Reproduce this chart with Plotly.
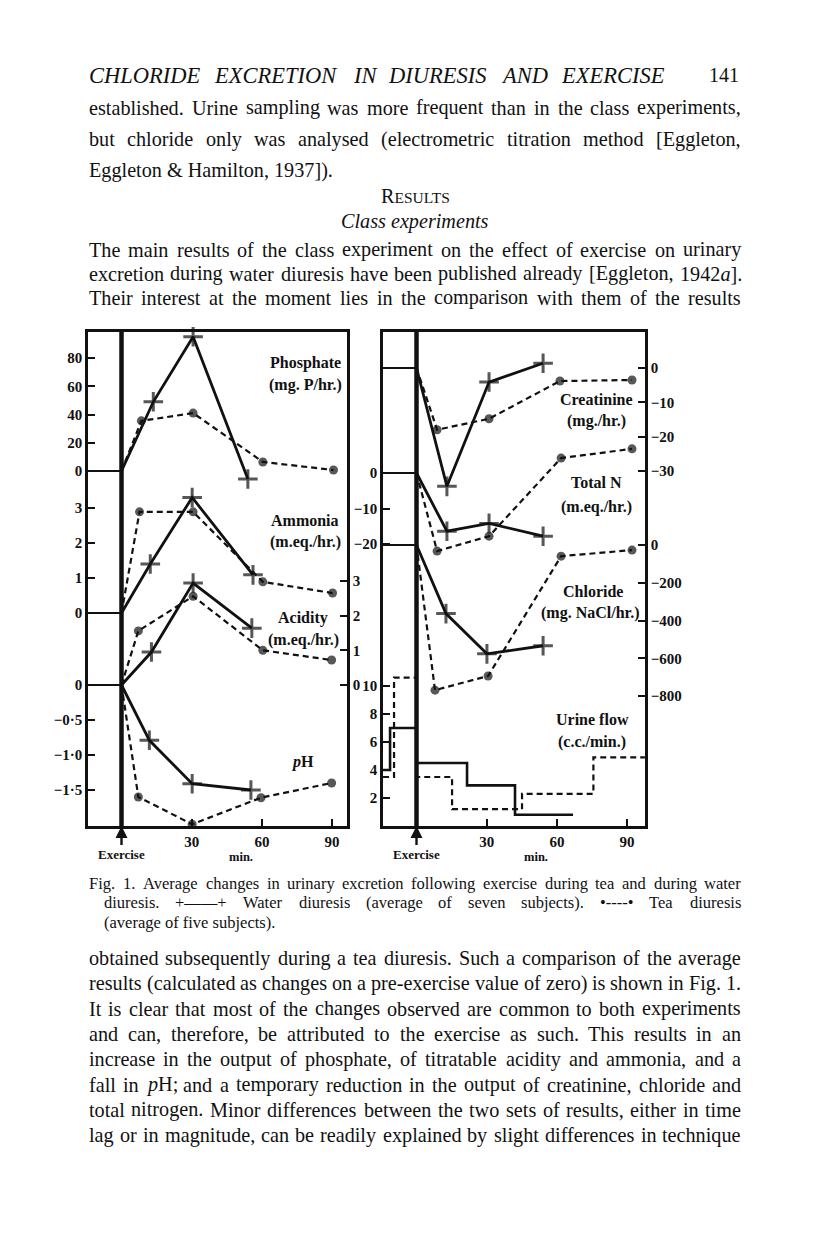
import re
import plotly.graph_objects as go

W, H = 816, 1234
LEFT, RIGHT = 88, 740
PLOT_TOP, PLOT_BOT = 332, 826
INK = "#111111"
SERIF = "Liberation Serif"

# ---- data (time in min after exercise) ----
# left panel
phos_water_t = [0, 13.6, 30.6, 54.0]
phos_water = [0, 49, 95, -5.7]
phos_tea_t = [0, 8.5, 30.6, 60.4, 90.6]
phos_tea = [0, 35.5, 41, 6.4, 0.7]

amm_water_t = [0, 12.3, 30.2, 56.2]
amm_water = [0, 1.4, 3.3, 1.09]
amm_tea_t = [0, 7.7, 30.6, 60.4, 90.2]
amm_tea = [0, 2.89, 2.89, 0.89, 0.57]

acid_water_t = [0, 12.8, 30.6, 55.7]
acid_water = [0, 0.95, 2.94, 1.64]
acid_tea_t = [0, 7.2, 30.6, 60.4, 89.8]
acid_tea = [0, 1.56, 2.56, 1.0, 0.72]

ph_water_t = [0, 11.9, 30.2, 55.3]
ph_water = [0, -0.79, -1.41, -1.5]
ph_tea_t = [0, 7.2, 30.2, 59.6, 89.8]
ph_tea = [0, -1.6, -1.99, -1.61, -1.4]

# right panel
crea_water_t = [0, 13.0, 31.0, 54.1]
crea_water = [0, -34.5, -4.1, 1.4]
crea_tea_t = [0, 8.8, 31.0, 61.3, 92.1]
crea_tea = [0, -18, -14.8, -3.8, -3.5]

totn_water_t = [0, 13.0, 31.0, 54.1]
totn_water = [0, -16.4, -14.2, -17.8]
totn_tea_t = [0, 8.8, 31.0, 61.8, 92.1]
totn_tea = [0, -22, -17.8, 4.2, 6.8]

chl_water_t = [0, 12.6, 30.1, 54.1]
chl_water = [0, -363, -576, -533]
chl_tea_t = [0, 7.9, 30.6, 61.8, 92.1]
chl_tea = [0, -768, -693, -59, -27]

flow_water_t = [-14.3, -11.3, 0, 21.6, 42.1, 66.9]
flow_water = [4.0, 7.0, 4.5, 2.9, 0.8, 0.8]
flow_tea_t = [-14.3, -9.6, 0, 15.2, 45.1, 75.6, 97.6]
flow_tea = [3.5, 10.6, 3.5, 1.2, 2.3, 4.9, 4.9]

time_ticks = [30, 60, 90]
phos_ticks = [0, 20, 40, 60, 80]
amm_ticks = [0, 1, 2, 3]
acid_ticks = [0, 1, 2, 3]
ph_ticks = [0, -0.5, -1.0, -1.5]
ph_labels = ["0", "\u22120\u00b75", "\u22121\u00b70", "\u22121\u00b75"]
crea_ticks = [0, -10, -20, -30]
totn_ticks = [0, -10, -20]
chl_ticks = [0, -200, -400, -600, -800]
flow_ticks = [2, 4, 6, 8, 10]

header = "CHLORIDE EXCRETION IN DIURESIS AND EXERCISE"
para_top = [
    "established. Urine sampling was more frequent than in the class experiments,",
    "but chloride only was analysed (electrometric titration method [Eggleton,",
    "Eggleton & Hamilton, 1937]).",
]
para_class = [
    "The main results of the class experiment on the effect of exercise on urinary",
    "excretion during water diuresis have been published already [Eggleton, 1942<i>a</i>].",
    "Their interest at the moment lies in the comparison with them of the results",
]
caption = [
    "Fig. 1. Average changes in urinary excretion following exercise during tea and during water",
    "diuresis. +\u2014\u2014+ Water diuresis (average of seven subjects). \u2022----\u2022 Tea diuresis",
    "(average of five subjects).",
]
para_after = [
    "obtained subsequently during a tea diuresis. Such a comparison of the average",
    "results (calculated as changes on a pre-exercise value of zero) is shown in Fig. 1.",
    "It is clear that most of the changes observed are common to both experiments",
    "and can, therefore, be attributed to the exercise as such. This results in an",
    "increase in the output of phosphate, of titratable acidity and ammonia, and a",
    "fall in <i>p</i>H; and a temporary reduction in the output of creatinine, chloride and",
    "total nitrogen. Minor differences between the two sets of results, either in time",
    "lag or in magnitude, can be readily explained by slight differences in technique",
]

# Times advance widths (1/1000 em), used to justify the text lines
TIMES = dict(zip("abcdefghijklmnopqrstuvwxyz",
                 [444, 500, 444, 500, 444, 333, 500, 500, 278, 278, 500, 278, 778,
                  500, 500, 500, 500, 333, 389, 278, 500, 500, 722, 500, 500, 444]))
TIMES.update(zip("ABCDEFGHIJKLMNOPQRSTUVWXYZ",
                 [722, 667, 667, 722, 611, 556, 722, 722, 333, 389, 722, 611, 889,
                  722, 722, 556, 722, 667, 556, 611, 722, 722, 944, 722, 722, 611]))
TIMES.update({" ": 250, ".": 250, ",": 250, ";": 278, ":": 278, "(": 333, ")": 333,
              "[": 333, "]": 333, "&": 778, "-": 333, "+": 564, "\u2022": 350,
              "\u2014": 1000, "/": 278})


def px(x):
    return x / W


def py(y):
    return 1 - y / H


def text_width(s, size):
    s = re.sub(r"<[^>]+>", "", s)
    return sum(TIMES.get(c, 500) for c in s) * size / 1000


def add_text(fig, text, x, y, size, anchor="left", **font):
    fig.add_annotation(text=text, x=px(x), y=py(y), xref="paper", yref="paper",
                       xanchor=anchor, yanchor="middle", showarrow=False, borderpad=0,
                       font=dict(family=SERIF, size=size, color=INK, **font))


def add_line(fig, text, y, size, x0=LEFT, x1=RIGHT, justify=True, **font):
    words = text.split(" ")
    if not justify or len(words) < 2:
        add_text(fig, text, x0, y, size, **font)
        return
    widths = [text_width(w, size) for w in words]
    gap = (x1 - x0 - sum(widths)) / (len(words) - 1)
    x = x0
    for w, wd in zip(words, widths):
        add_text(fig, w, x, y, size, **font)
        x += wd + gap


def yrange(p0, s):
    # p0 = pixel row of the zero value, s = pixels per unit
    return [(p0 - PLOT_BOT) / s, (p0 - PLOT_TOP) / s]


def water(t, v, xa, ya):
    return go.Scatter(x=t, y=v, xaxis=xa, yaxis=ya, mode="lines+markers", cliponaxis=False,
                      line=dict(color=INK, width=2.8),
                      marker=dict(symbol="cross-thin", color=INK,
                                  size=[0] + [14] * (len(t) - 1),
                                  line=dict(color=INK, width=3)))


def tea(t, v, xa, ya):
    return go.Scatter(x=t, y=v, xaxis=xa, yaxis=ya, mode="lines+markers", cliponaxis=False,
                      line=dict(color=INK, width=2.2, dash="6px,4px"),
                      marker=dict(symbol="circle", color=INK, line=dict(width=0),
                                  size=[0] + [9] * (len(t) - 1)))


def baseline(xa, ya, x0):
    return go.Scatter(x=[x0, 0], y=[0, 0], xaxis=xa, yaxis=ya, mode="lines",
                      line=dict(color=INK, width=2.2))


fig = go.Figure()

XL = [(88 - 121.5) / 2.34, (347 - 121.5) / 2.34]
XR = [(383 - 416.5) / 2.34, (645 - 416.5) / 2.34]

fig.add_trace(baseline("x", "y", XL[0]))
fig.add_trace(baseline("x", "y2", XL[0]))
fig.add_trace(baseline("x", "y4", XL[0]))
fig.add_trace(water(phos_water_t, phos_water, "x", "y"))
fig.add_trace(tea(phos_tea_t, phos_tea, "x", "y"))
fig.add_trace(water(amm_water_t, amm_water, "x", "y2"))
fig.add_trace(tea(amm_tea_t, amm_tea, "x", "y2"))
fig.add_trace(water(acid_water_t, acid_water, "x", "y3"))
fig.add_trace(tea(acid_tea_t, acid_tea, "x", "y3"))
fig.add_trace(water(ph_water_t, ph_water, "x", "y4"))
fig.add_trace(tea(ph_tea_t, ph_tea, "x", "y4"))

fig.add_trace(baseline("x2", "y5", XR[0]))
fig.add_trace(baseline("x2", "y6", XR[0]))
fig.add_trace(baseline("x2", "y7", XR[0]))
fig.add_trace(water(crea_water_t, crea_water, "x2", "y5"))
fig.add_trace(tea(crea_tea_t, crea_tea, "x2", "y5"))
fig.add_trace(water(totn_water_t, totn_water, "x2", "y6"))
fig.add_trace(tea(totn_tea_t, totn_tea, "x2", "y6"))
fig.add_trace(water(chl_water_t, chl_water, "x2", "y7"))
fig.add_trace(tea(chl_tea_t, chl_tea, "x2", "y7"))
fig.add_trace(go.Scatter(x=flow_water_t, y=flow_water, xaxis="x2", yaxis="y8", mode="lines",
                         line=dict(color=INK, width=2.6, shape="hv")))
fig.add_trace(go.Scatter(x=flow_tea_t, y=flow_tea, xaxis="x2", yaxis="y8", mode="lines",
                         line=dict(color=INK, width=2.2, shape="hv", dash="6px,4px")))

tickfont = dict(family=SERIF, size=15, color=INK, weight="bold")
common = dict(showgrid=False, zeroline=False, ticks="inside", ticklen=7, tickwidth=2.4,
              tickcolor=INK, tickfont=tickfont, linecolor=INK, linewidth=2.6)
ydom = [py(PLOT_BOT), py(PLOT_TOP)]

fig.update_layout(
    width=W, height=H, margin=dict(l=0, r=0, t=0, b=0),
    paper_bgcolor="white", plot_bgcolor="white", showlegend=False,
    xaxis=dict(domain=[px(88), px(347)], range=XL, anchor="y", tickvals=time_ticks,
               showline=True, mirror=True, **common),
    yaxis=dict(domain=ydom, range=yrange(471, 1.4125), anchor="x", tickvals=phos_ticks,
               showline=True, mirror=True, **common),
    yaxis2=dict(overlaying="y", anchor="x", side="left", range=yrange(613, 35),
                tickvals=amm_ticks, **common),
    yaxis3=dict(overlaying="y", anchor="x", side="right", range=yrange(685, 34.67),
                tickvals=acid_ticks, **common),
    yaxis4=dict(overlaying="y", anchor="x", side="left", range=yrange(685, 70),
                tickvals=ph_ticks, ticktext=ph_labels, **common),
    xaxis2=dict(domain=[px(383), px(645)], range=XR, anchor="y5", tickvals=time_ticks,
                showline=True, mirror=True, **common),
    yaxis5=dict(domain=ydom, anchor="x2", side="right", range=yrange(368, 3.43),
                tickvals=crea_ticks, showline=True, mirror=True, **common),
    yaxis6=dict(overlaying="y5", anchor="x2", side="left", range=yrange(473, 3.55),
                tickvals=totn_ticks, **common),
    yaxis7=dict(overlaying="y5", anchor="x2", side="right", range=yrange(545, 0.189),
                tickvals=chl_ticks, **common),
    yaxis8=dict(overlaying="y5", anchor="x2", side="left", range=yrange(826, 14.0),
                tickvals=flow_ticks, **common),
)

# exercise markers
for xa in ["x", "x2"]:
    fig.add_shape(type="line", xref=xa, yref="paper", x0=0, x1=0, y0=ydom[0], y1=ydom[1],
                  line=dict(color=INK, width=4.5))
    fig.add_annotation(text="Exercise", x=0, xref=xa, y=ydom[0], yref="paper",
                       showarrow=True, arrowhead=2, arrowsize=1, arrowwidth=2.4,
                       arrowcolor=INK, ax=0, ay=28,
                       font=dict(family=SERIF, size=13, color=INK, weight="bold"))
    fig.add_annotation(text="min.", x=51, xref=xa, y=py(857), yref="paper",
                       yanchor="middle", showarrow=False, borderpad=0,
                       font=dict(family=SERIF, size=12.5, color=INK, weight="bold"))

labels = [
    ("Phosphate", 305, 363), ("(mg. P/hr.)", 305, 385),
    ("Ammonia", 305, 520), ("(m.eq./hr.)", 305, 542),
    ("Acidity", 303, 618), ("(m.eq./hr.)", 303, 640),
    ("<i>p</i>H", 302, 762),
    ("Creatinine", 596, 399), ("(mg./hr.)", 596, 421),
    ("Total N", 596, 482), ("(m.eq./hr.)", 596, 507),
    ("Chloride", 593, 591), ("(mg. NaCl/hr.)", 590, 613),
    ("Urine flow", 592, 719), ("(c.c./min.)", 592, 742),
]
for text, x, y in labels:
    add_text(fig, text, x, y, 16, anchor="center", weight="bold")

# page text
add_line(fig, header, 75, 22.5, x1=668, style="italic")
add_text(fig, "141", RIGHT, 75, 20, anchor="right")

body = 20.2
for i, line in enumerate(para_top):
    add_line(fig, line, 108 + i * 31, body, justify=i < 2)
add_text(fig, "R<span style='font-size:15.5px'>ESULTS</span>", 415, 196, body, anchor="center")
add_text(fig, "Class experiments", 415, 221, body, anchor="center", style="italic")
for i, line in enumerate(para_class):
    add_line(fig, line, 250 + i * 24, body)

cap = 16.5
for i, line in enumerate(caption):
    add_line(fig, line, 883 + i * 19.5, cap, x0=LEFT if i == 0 else 103, justify=i < 2)

for i, line in enumerate(para_after):
    add_line(fig, line, 958 + i * 25.3, body)

fig.write_html("out.html", config={"displayModeBar": False},
               post_script="document.body.style.margin='0';")
